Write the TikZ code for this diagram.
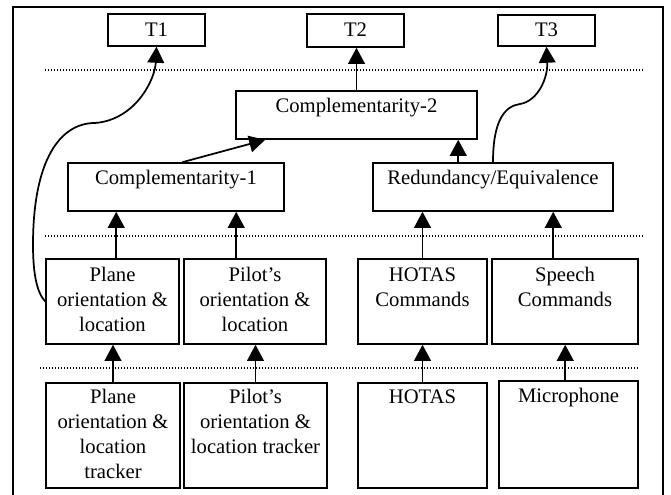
\documentclass[tikz,border=0pt]{standalone}
\usepackage{fontspec}
\setmainfont{Liberation Serif}
\usetikzlibrary{arrows.meta,calc,fit}

\begin{document}
\begin{tikzpicture}[x=0.75pt,y=-0.75pt,
  box/.style={draw, line width=1.15pt, inner sep=0pt},
  lbl/.style={inner sep=0pt, align=center, anchor=north,
    font=\fontsize{15.5}{18.75}\selectfont},
  arr/.style={line width=1.3pt, -{Triangle[length=12pt,width=12.5pt]}},
  sep/.style={line width=0.8pt, dash pattern=on 0.75pt off 1.5pt}]

\useasboundingbox (0,0) rectangle (671,495);

% outer frame
\draw[line width=1.15pt] (13,7) rectangle (663,500);

% layer separators
\draw[sep] (45,70) -- (643,70);
\draw[sep] (45,236) -- (643,236);
\draw[sep] (40,368) -- (638,368);

% tasks
\node[box, fit={(108,14) (205,46)}] (t1) {};
\node[lbl] (t1l) at (156.5,18.5) {\strut T1};
\node[box, fit={(307,14) (404,47)}] (t2) {};
\node[lbl] (t2l) at (355.5,18.5) {\strut T2};
\node[box, fit={(498,15) (595,46)}] (t3) {};
\node[lbl] (t3l) at (546.5,18.5) {\strut T3};

% fusion boxes
\node[box, fit={(236,91) (477,139)}] (c2) {};
\node[lbl] (c2l) at (356.5,94.5) {\strut Complementarity-2};
\node[box, fit={(68,163) (284,211)}] (c1) {};
\node[lbl] (c1l) at (176,166.5) {\strut Complementarity-1};
\node[box, fit={(373,163) (613,211)}] (red) {};
\node[lbl] (redl) at (493,166.5) {\strut Redundancy/Equivalence};

% interpreted inputs
\node[box, fit={(46,259) (179,344)}] (po) {};
\node[lbl] (pol) at (112.5,263.5) {\strut Plane\\orientation \&\\location};
\node[box, fit={(184,259) (326,344)}] (pl) {};
\node[lbl] (pll) at (255,263.5) {\strut Pilot’s\\orientation \&\\location};
\node[box, fit={(358,259) (487,344)}] (hc) {};
\node[lbl] (hcl) at (422.5,263.5) {\strut HOTAS\\Commands};
\node[box, fit={(492,259) (638,344)}] (sc) {};
\node[lbl] (scl) at (565,263.5) {\strut Speech\\Commands};

% devices
\node[box, fit={(46,383) (180,488)}] (ptr) {};
\node[lbl] (ptrl) at (113,385.5) {\strut Plane\\orientation \&\\location\\tracker};
\node[box, fit={(184,383) (327,488)}] (ltr) {};
\node[lbl] (ltrl) at (255.5,385.5) {\strut Pilot’s\\orientation \&\\location tracker};
\node[box, fit={(358,383) (487,488)}] (ho) {};
\node[lbl] (hol) at (422.5,385.5) {\strut HOTAS};
\node[box, fit={(499,381) (638,488)}] (mic) {};
\node[lbl] (micl) at (568.5,384.5) {\strut Microphone};

% connector start points off the box centres
\coordinate (micout) at ($(mic.north west)+(67,0)$);
\coordinate (poout) at ($(po.north west)+(71,0)$);
\coordinate (plout) at ($(pl.north west)+(53,0)$);
\coordinate (scout) at ($(sc.north west)+(62,0)$);
\coordinate (c1out) at ($(c1.north west)+(115,0)$);
\coordinate (c2in) at ($(c2.south west)+(30,0)$);
\coordinate (redout) at ($(red.north west)+(86,0)$);

% devices to interpreted inputs
\draw[arr] (ptr.north) -- (ptr.north |- po.south);
\draw[arr] (ltr.north) -- (ltr.north |- pl.south);
\draw[arr] (ho.north) -- (ho.north |- hc.south);
\draw[arr] (micout) -- (micout |- sc.south);

% inputs to fusion
\draw[arr] (poout) -- (poout |- c1.south);
\draw[arr] (plout) -- (plout |- c1.south);
\draw[arr] (hc.north) -- (hc.north |- red.south);
\draw[arr] (scout) -- (scout |- red.south);

% fusion to fusion and tasks
\draw[arr] (c1out) -- (c2in);
\draw[arr] (redout) -- (redout |- c2.south);
\draw[arr] (c2.north) -- (c2.north |- t2.south);
\draw[arr] (red.north) .. controls (493,120) and (505,106) .. (520,104)
  .. controls (538,101) and (548,78) .. (t3.south);
\draw[arr] (po.west) .. controls (36,292) and (33,270) .. (33,245)
  .. controls (33,160) and (60,123) .. (95,123)
  .. controls (135,120) and (155,80) .. (t1.south);
\end{tikzpicture}
\end{document}
